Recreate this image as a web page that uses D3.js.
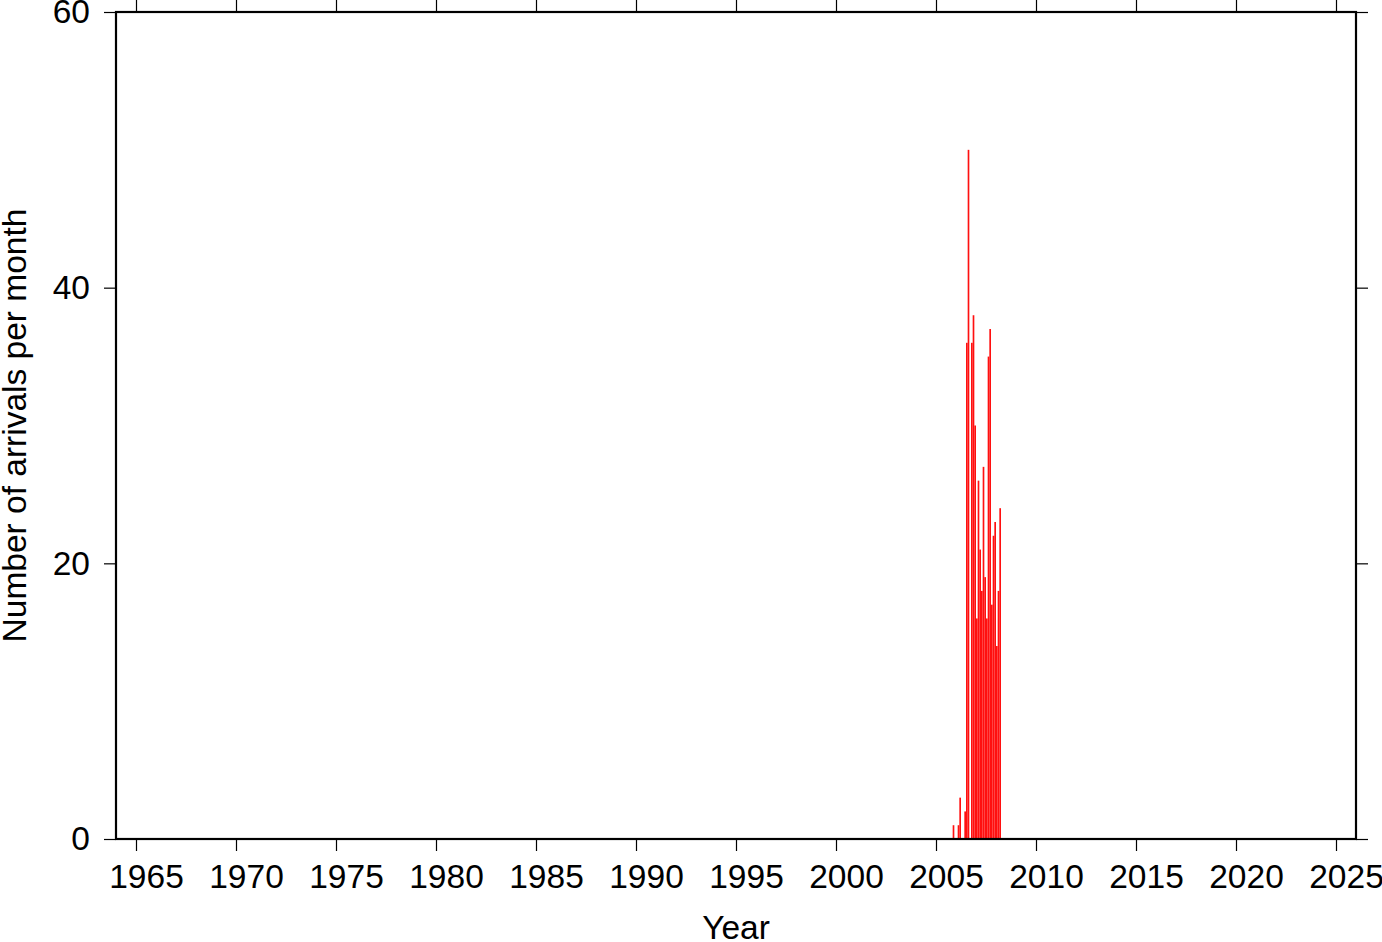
<!DOCTYPE html>
<html>
<head>
<meta charset="utf-8">
<script src="https://cdn.jsdelivr.net/npm/d3@7"></script>
<style>
  html, body { margin: 0; padding: 0; background: #fff; }
  svg { display: block; }
  text { font-family: "Liberation Sans", Arial, Helvetica, sans-serif; fill: #000; }
</style>
</head>
<body>
<svg id="chart" width="1382" height="942"></svg>
<script>
// ---- data (monthly arrival counts) ----
const months = ["2005-11","2006-02","2006-03","2006-06","2006-07","2006-08","2006-10","2006-11","2006-12",
                "2007-01","2007-02","2007-03","2007-04","2007-05","2007-06","2007-07","2007-08","2007-09",
                "2007-10","2007-11","2007-12","2008-01","2008-02","2008-03"];
const counts = [1, 1, 3, 2, 36, 50, 36, 38, 30,
                16, 26, 21, 18, 27, 19, 16, 35, 37,
                17, 22, 23, 14, 18, 24];
const xTickYears = [1965,1970,1975,1980,1985,1990,1995,2000,2005,2010,2015,2020,2025];
const yTickValues = [0, 20, 40, 60];
const xDomain = [1964, 2026];
const yDomain = [0, 60];
const xTitle = "Year";
const yTitle = "Number of arrivals per month";

// ---- layout ----
const W = 1382, H = 942;
const margin = {left: 116, right: 26, top: 12, bottom: 103};
const svg = d3.select("#chart");
const x = d3.scaleLinear().domain(xDomain).range([margin.left, W - margin.right]);
const y = d3.scaleLinear().domain(yDomain).range([H - margin.bottom, margin.top]);

const data = months.map((m, i) => {
  const [yr, mo] = m.split("-").map(Number);
  return {start: yr + (mo - 1) / 12, end: yr + mo / 12, v: counts[i]};
});

// bars
svg.append("g").selectAll("rect").data(data).join("rect")
  .attr("x", d => x(d.start))
  .attr("width", d => Math.max(0.5, x(d.end) - x(d.start)))
  .attr("y", d => y(d.v))
  .attr("height", d => y(0) - y(d.v))
  .attr("fill", "#ff1010");

const fontSize = 33.5;
function styleAxis(g, showText) {
  g.select(".domain").remove();
  g.selectAll(".tick line").attr("stroke", "#000").attr("stroke-width", 1.2);
  g.selectAll(".tick text").attr("font-size", fontSize)
    .attr("font-family", "'Liberation Sans', Arial, Helvetica, sans-serif")
    .attr("fill", "#000");
  if (!showText) g.selectAll(".tick text").remove();
}

// bottom axis
svg.append("g").attr("transform", `translate(0,${y(0)})`)
  .call(d3.axisBottom(x).tickValues(xTickYears).tickFormat(d3.format("d")).tickSize(12).tickPadding(13))
  .call(g => styleAxis(g, true))
  .call(g => g.selectAll(".tick text").attr("dx", 10));
// top axis (ticks only)
svg.append("g").attr("transform", `translate(0,${y(yDomain[1])})`)
  .call(d3.axisTop(x).tickValues(xTickYears).tickSize(12))
  .call(g => styleAxis(g, false));
// left axis
svg.append("g").attr("transform", `translate(${x(xDomain[0])},0)`)
  .call(d3.axisLeft(y).tickValues(yTickValues).tickFormat(d3.format("d")).tickSize(12).tickPadding(14))
  .call(g => styleAxis(g, true));
// right axis (ticks only)
svg.append("g").attr("transform", `translate(${x(xDomain[1])},0)`)
  .call(d3.axisRight(y).tickValues(yTickValues).tickSize(12))
  .call(g => styleAxis(g, false));

// frame
svg.append("rect")
  .attr("x", x(xDomain[0])).attr("y", y(yDomain[1]))
  .attr("width", x(xDomain[1]) - x(xDomain[0]))
  .attr("height", y(yDomain[0]) - y(yDomain[1]))
  .attr("fill", "none").attr("stroke", "#000").attr("stroke-width", 2.2);

// titles
svg.append("text")
  .attr("x", (x(xDomain[0]) + x(xDomain[1])) / 2)
  .attr("y", 939)
  .attr("text-anchor", "middle")
  .attr("font-size", fontSize)
  .text(xTitle);

svg.append("text")
  .attr("transform", `translate(26,${(y(yDomain[0]) + y(yDomain[1])) / 2}) rotate(-90)`)
  .attr("text-anchor", "middle")
  .attr("font-size", fontSize)
  .text(yTitle);
</script>
</body>
</html>
